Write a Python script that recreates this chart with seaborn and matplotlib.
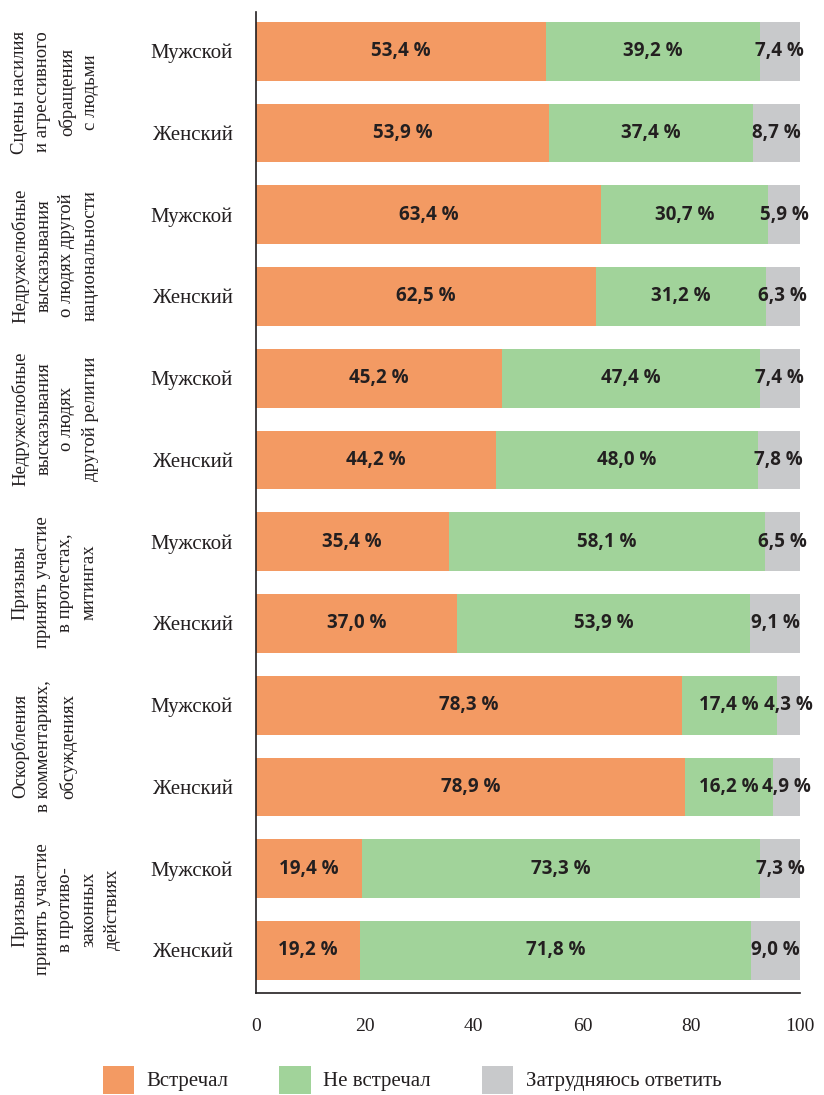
import numpy as np
import pandas as pd
import seaborn as sns
import matplotlib.pyplot as plt
from matplotlib.patches import Patch
from matplotlib.transforms import blended_transform_factory

groups = ["Сцены насилия\nи агрессивного\nобращения\nс людьми",
          "Недружелюбные\nвысказывания\nо людях другой\nнациональности",
          "Недружелюбные\nвысказывания\nо людях\nдругой религии",
          "Призывы\nпринять участие\nв протестах,\nмитингах",
          "Оскорбления\nв комментариях,\nобсуждениях",
          "Призывы\nпринять участие\nв противо-\nзаконных\nдействиях"]
sexes = ["Мужской", "Женский"]
met = [53.4, 53.9, 63.4, 62.5, 45.2, 44.2, 35.4, 37.0, 78.3, 78.9, 19.4, 19.2]
not_met = [39.2, 37.4, 30.7, 31.2, 47.4, 48.0, 58.1, 53.9, 17.4, 16.2, 73.3, 71.8]
unsure = [7.4, 8.7, 5.9, 6.3, 7.4, 7.8, 6.5, 9.1, 4.3, 4.9, 7.3, 9.0]
legend_labels = ["Встречал", "Не встречал", "Затрудняюсь ответить"]
colors = ["#F39A63", "#A1D39A", "#C8C9CB"]

rows = [f"{g}|{s}" for g in range(len(groups)) for s in sexes]
df = pd.DataFrame({"row": rows, "met": met, "not_met": not_met, "unsure": unsure})
df["c1"] = df["met"]
df["c2"] = df["met"] + df["not_met"]
df["c3"] = df["c2"] + df["unsure"]

sns.set_style("white")
plt.rcParams["font.family"] = ["Liberation Serif", "DejaVu Serif"]

fig = plt.figure(figsize=(8.24, 10.95), dpi=100)
ax = fig.add_axes([256 / 824, 1 - 993 / 1095, 544 / 824, 981 / 1095])

# stacked bars: draw cumulative totals back to front
for col, c in zip(["c3", "c2", "c1"], colors[::-1]):
    sns.barplot(data=df, x=col, y="row", orient="h", color=c, width=0.72,
                saturation=1, edgecolor="none", linewidth=0, ax=ax)

txt = dict(ha="center", va="center", fontsize=13.5, fontweight="bold",
           color="#231f20", family=["Open Sans", "DejaVu Sans"])
for i, r in df.iterrows():
    starts = [0, r["c1"], r["c2"]]
    vals = [r["met"], r["not_met"], r["unsure"]]
    for s, v in zip(starts, vals):
        ax.text(s + v / 2, i, f"{v:.1f} %".replace(".", ","), **txt)

ax.set_xlim(0, 100)
ax.set_ylim(len(rows) - 0.48, -0.48)
ax.set_xticks([0, 20, 40, 60, 80, 100])
ax.set_xticklabels(["0", "20", "40", "60", "80", "100"], fontsize=14, color="#231f20")
ax.set_yticks(range(len(rows)))
ax.set_yticklabels([r.split("|")[1] for r in rows], fontsize=15, color="#231f20",
                   va="center_baseline")
ax.tick_params(axis="y", length=0, pad=17)
ax.tick_params(axis="x", length=0, pad=18)
ax.set_xlabel("")
ax.set_ylabel("")
sns.despine(ax=ax, top=True, right=True)
for sp in ["left", "bottom"]:
    ax.spines[sp].set_color("#231f20")
    ax.spines[sp].set_linewidth(1.2)

# group names, rotated, at the far left
trans = blended_transform_factory(fig.transFigure, ax.transData)
for g, name in enumerate(groups):
    fig.text(11 / 824, 2 * g + 0.5, name, transform=trans, rotation=90,
             ha="left", va="center", multialignment="center",
             fontsize=13.5, color="#231f20", linespacing=1.48)

handles = [Patch(facecolor=c, edgecolor="none") for c in colors]
fig.legend(handles, legend_labels, loc="lower center", bbox_to_anchor=(0.5, -0.016),
           ncol=3, frameon=False, fontsize=15, handlelength=1.5, handleheight=1.7,
           handletextpad=0.6, columnspacing=2.45, labelcolor="#231f20")

fig.savefig("out.png", dpi=100)
